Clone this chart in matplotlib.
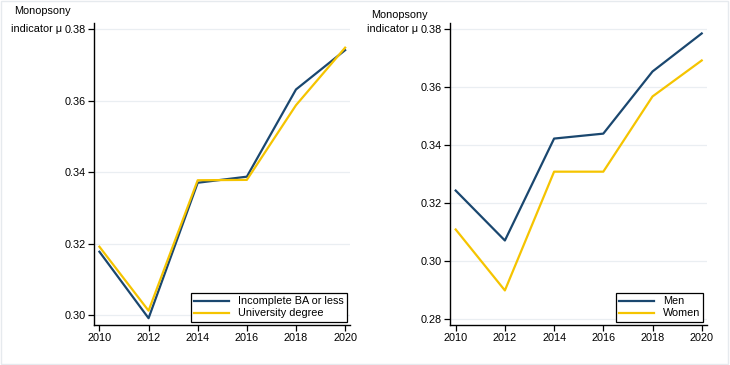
import matplotlib.pyplot as plt
from matplotlib.patches import Rectangle

plt.rcParams['font.family'] = ['Liberation Sans', 'DejaVu Sans']

# Data
years = [2010, 2012, 2014, 2016, 2018, 2020]
incomplete_ba = [0.3177, 0.2991, 0.3370, 0.3387, 0.3631, 0.3741]
university = [0.3191, 0.3012, 0.3377, 0.3378, 0.3587, 0.3748]
men = [0.3243, 0.3071, 0.3422, 0.3439, 0.3653, 0.3784]
women = [0.3109, 0.2899, 0.3308, 0.3308, 0.3567, 0.3691]

left_ticks = [0.30, 0.32, 0.34, 0.36, 0.38]
right_ticks = [0.28, 0.30, 0.32, 0.34, 0.36, 0.38]

navy = '#1a476f'
gold = '#f5c400'
fs = 7.8

W, H = 730, 365
fig = plt.figure(figsize=(7.3, 3.65), dpi=100)
fig.patches.append(Rectangle((0.0015, 0.002), 0.9955, 0.994, transform=fig.transFigure,
                             fill=False, edgecolor='#e6eaee', linewidth=1))

ax1 = fig.add_axes([0.1288, 0.1096, 0.3507, 0.8274])
ax2 = fig.add_axes([0.6168, 0.1096, 0.3512, 0.8274])


def style(ax, ticks, ylim):
    ax.set_ylim(*ylim)
    ax.set_xlim(2009.78, 2020.2)
    ax.set_xticks(years)
    ax.set_yticks(ticks)
    ax.set_yticklabels(['%.2f' % t for t in ticks])
    ax.grid(axis='y', color='#eaeef2', linewidth=0.9)
    ax.set_axisbelow(True)
    for s in ['top', 'right']:
        ax.spines[s].set_visible(False)
    for s in ['left', 'bottom']:
        ax.spines[s].set_linewidth(1.0)
    ax.tick_params(labelsize=fs, length=4, width=0.9, pad=2)


ax1.plot(years, incomplete_ba, color=navy, lw=1.6, label='Incomplete BA or less')
ax1.plot(years, university, color=gold, lw=1.6, label='University degree')
style(ax1, left_ticks, (0.2972, 0.3817))

ax2.plot(years, men, color=navy, lw=1.6, label='Men')
ax2.plot(years, women, color=gold, lw=1.6, label='Women')
style(ax2, right_ticks, (0.278, 0.382))

# y-axis titles, horizontal at the top left of each panel
fig.text(14 / W, 1 - 11 / H, 'Monopsony', fontsize=fs, ha='left', va='center')
fig.text(62 / W, 1 - 29 / H, 'indicator \u03bc', fontsize=fs, ha='right', va='center')
fig.text(371 / W, 1 - 15 / H, 'Monopsony', fontsize=fs, ha='left', va='center')
fig.text(418 / W, 1 - 29 / H, 'indicator \u03bc', fontsize=fs, ha='right', va='center')

for ax in (ax1, ax2):
    leg = ax.legend(loc='lower right', fontsize=fs, frameon=True, fancybox=False,
                    framealpha=1, edgecolor='black', borderpad=0.3,
                    handlelength=3.2, handletextpad=0.8, labelspacing=0.2,
                    borderaxespad=0.3)
    leg.get_frame().set_linewidth(0.9)

fig.savefig('out.png', dpi=100)
